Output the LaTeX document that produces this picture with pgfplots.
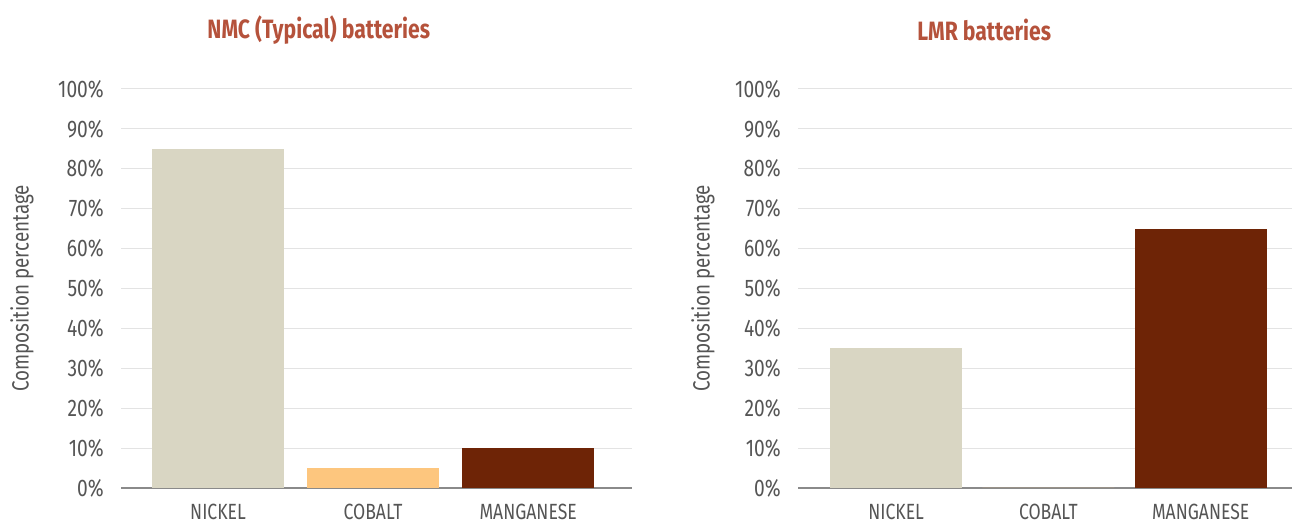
\documentclass[border=0pt]{standalone}
\usepackage{pgfplots}
\pgfplotsset{compat=1.18}
\usepackage{fontspec}
\setmainfont{Fira Sans}[FakeStretch=0.8]

\definecolor{nickel}{HTML}{D9D6C3}
\definecolor{cobalt}{HTML}{FDC67E}
\definecolor{manganese}{HTML}{6E2406}
\definecolor{titlecol}{HTML}{B5523B}
\definecolor{tickgray}{HTML}{555555}
\definecolor{gridgray}{HTML}{E3E3E3}
\definecolor{basegray}{HTML}{8A8A8A}

\pgfplotsset{
  batt/.style={
    scale only axis,
    height=399pt,
    ymin=0, ymax=100,
    ytick={0,10,...,100},
    yticklabel={\pgfmathprintnumber{\tick}\%},
    /pgf/number format/assume math mode=true,
    xtick={0,1,2},
    xticklabels={NICKEL,COBALT,MANGANESE},
    major tick length=0pt,
    axis y line*=left, axis x line*=bottom,
    y axis line style={draw=none},
    x axis line style={draw=basegray, line width=2pt, -},
    ymajorgrids,
    grid style={draw=gridgray, line width=1pt},
    ybar, bar width=132pt,
    yticklabel style={font=\fontsize{24}{26}\selectfont, text=tickgray, inner sep=0pt, xshift=-17pt},
    xticklabel style={font=\fontsize{22}{24}\selectfont, text=tickgray, inner sep=0pt, yshift=-16pt},
    ylabel={Composition percentage},
    ylabel style={font=\fontsize{23.5}{25}\selectfont, text=tickgray, yshift=21pt},
    title style={font=\fontsize{26.5}{28}\selectfont\bfseries, text=titlecol, anchor=center},
    clip=false,
  }
}

\begin{document}
\begin{tikzpicture}
\useasboundingbox (0,0) rectangle (1292pt,524pt);

% NMC (typical) composition
\begin{axis}[batt, at={(121pt,36pt)}, anchor=south west, width=511pt,
  xmin=-0.626, xmax=2.67,
  title={NMC (Typical) batteries},
  title style={at={(axis description cs:0.387,1)}, yshift=53pt}]
  \addplot[fill=nickel, draw=none, bar shift=0pt] coordinates {(0,85)};
  \addplot[fill=cobalt, draw=none, bar shift=0pt] coordinates {(1,5)};
  \addplot[fill=manganese, draw=none, bar shift=0pt] coordinates {(2,10)};
\end{axis}

% LMR composition
\begin{axis}[batt, at={(798pt,36pt)}, anchor=south west, width=494pt,
  xmin=-0.645, xmax=2.6,
  title={LMR batteries},
  title style={at={(axis description cs:0.377,1)}, yshift=53pt},
  ylabel style={yshift=-4pt}]
  \addplot[fill=nickel, draw=none, bar shift=0pt] coordinates {(0,35)};
  \addplot[fill=cobalt, draw=none, bar shift=0pt] coordinates {(1,0)};
  \addplot[fill=manganese, draw=none, bar shift=0pt] coordinates {(2,65)};
\end{axis}
\end{tikzpicture}
\end{document}
